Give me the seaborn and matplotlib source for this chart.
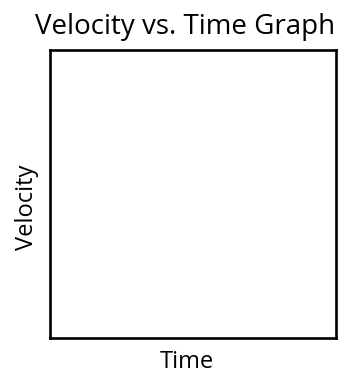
import matplotlib
matplotlib.use("Agg")
import matplotlib.pyplot as plt
import seaborn as sns

title = "Velocity vs. Time Graph"
x_label = "Time"
y_label = "Velocity"
time_values = []
velocity_values = []

sns.set_style("white")
plt.rcParams['font.family'] = ['Open Sans', 'DejaVu Sans']

fig = plt.figure(figsize=(3.41, 3.76), dpi=100)
ax = fig.add_axes([50/341, 38/376, 286/341, 288/376])
sns.lineplot(x=time_values, y=velocity_values, ax=ax)
ax.set_xticks([])
ax.set_yticks([])
for s in ax.spines.values():
    s.set_visible(True)
    s.set_color("black")
    s.set_linewidth(1.9)

fig.text(185/341, 1 - 27/376, title, ha="center", va="center", fontsize=20, color="black")
fig.text(187/341, 1 - 362/376, x_label, ha="center", va="center", fontsize=17, color="black")
fig.text(27/341, 1 - 207/376, y_label, ha="center", va="center", rotation=90, fontsize=17, color="black")

fig.savefig("out.png", dpi=100)
